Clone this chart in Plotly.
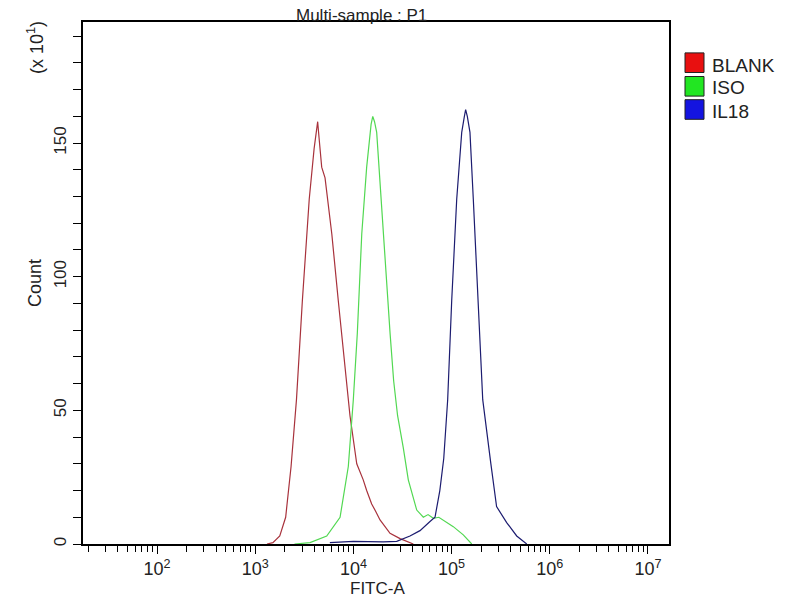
import numpy as np
import plotly.graph_objects as go

# FITC-A intensity (log10 values) and counts (x10)
blank_log = [3.12, 3.18, 3.25, 3.31, 3.365, 3.42, 3.48, 3.55, 3.60, 3.625, 3.636, 3.65, 3.677, 3.711, 3.78, 3.846,
             3.914, 3.965, 4.034, 4.10, 4.135, 4.186, 4.23, 4.271, 4.373, 4.475, 4.61]
blank_cnt = [0, 0.5, 3, 10, 29, 54, 91, 129, 148, 155, 158, 152, 141, 137, 116, 91,
             66, 48, 30, 24, 20, 15, 12, 9, 4, 2, 0]

iso_log = [3.40, 3.558, 3.728, 3.864, 3.948, 3.999, 4.04, 4.085, 4.135, 4.18, 4.197, 4.215, 4.237, 4.304, 4.373,
           4.41, 4.45, 4.508, 4.559, 4.645, 4.712, 4.76, 4.814, 4.87, 4.916, 5.017, 5.119, 5.205]
iso_cnt = [0, 0.5, 3, 10, 29, 54, 79, 116, 141, 157, 160, 158, 154, 116, 79,
           61, 48, 36, 24, 12.7, 10, 11, 9.6, 10, 9, 6.5, 3.4, 0]

il18_log = [3.76, 4.0, 4.304, 4.441, 4.576, 4.678, 4.78, 4.831, 4.88, 4.92, 4.96, 5.001, 5.052, 5.103,
            5.13, 5.143, 5.16, 5.187, 5.221, 5.272, 5.317, 5.40, 5.458, 5.561, 5.663, 5.765]
il18_cnt = [0.5, 1, 0.8, 1, 3, 5, 8.4, 10, 20, 32, 54, 91, 129, 154,
            160, 162.5, 160, 154, 129, 91, 54, 30, 14, 8, 3, 0]

names = ["BLANK", "ISO", "IL18"]
line_colors = ["#a8323c", "#52d852", "#1c1c70"]
box_colors = ["#e81010", "#22e622", "#1414e0"]

tick_vals = [10 ** k for k in range(2, 8)]
tick_text = ["10<sup>%d</sup>" % k for k in range(2, 8)]
minor_vals = [m * 10 ** k for k in range(1, 8) for m in range(2, 10)]

fig = go.Figure()
for xs, ys, c, n in [(blank_log, blank_cnt, line_colors[0], names[0]),
                     (iso_log, iso_cnt, line_colors[1], names[1]),
                     (il18_log, il18_cnt, line_colors[2], names[2])]:
    fig.add_trace(go.Scatter(x=10 ** np.array(xs), y=ys, mode="lines", name=n,
                             line=dict(color=c, width=1.2), showlegend=False))

W, H = 800, 600
L, R, T, B = 83, 669, 22, 544
OFF = 8  # page body margin


def px(x):
    return (x - L) / (R - L)


def py(y):
    return (B - y) / (B - T)


font = "Liberation Sans, Arial, sans-serif"
fig.update_layout(
    width=W, height=H,
    margin=dict(l=L - OFF, r=W - R + OFF, t=T - OFF, b=H - B + OFF),
    paper_bgcolor="white", plot_bgcolor="white",
    font=dict(family=font, color="#222", size=17),
    showlegend=False,
)
fig.update_xaxes(type="log", range=[1.246, 7.214], showgrid=False, zeroline=False,
                 showline=True, linecolor="black", linewidth=1.5, mirror=True,
                 tickvals=tick_vals, ticktext=tick_text, ticks="outside", ticklen=8,
                 tickcolor="black", tickfont=dict(size=18),
                 minor=dict(tickvals=minor_vals, ticks="outside", ticklen=6, tickcolor="black"))
fig.update_yaxes(range=[0, 195.3], showgrid=False, zeroline=False,
                 showline=True, linecolor="black", linewidth=1.5, mirror=True,
                 tickvals=list(range(0, 200, 10)),
                 ticktext=[str(v) if v % 50 == 0 else "" for v in range(0, 200, 10)],
                 ticks="outside", ticklen=8, tickcolor="black", tickangle=-90,
                 tickfont=dict(size=17))

anns = [
    dict(x=px(361), y=py(16), text="Multi-sample : P1", textangle=0, size=17),
    dict(x=px(377), y=py(588), text="FITC-A", textangle=0, size=17),
    dict(x=px(35), y=py(283), text="Count", textangle=-90, size=18),
    dict(x=px(36), y=py(48), text="(x 10<sup>1</sup>)", textangle=-90, size=18),
]
for a in anns:
    fig.add_annotation(x=a["x"], y=a["y"], xref="paper", yref="paper", text=a["text"],
                       showarrow=False, textangle=a["textangle"],
                       xanchor="center", yanchor="middle",
                       font=dict(size=a["size"], color="#222", family=font))

box_y = [62.7, 86.3, 109.5]
text_y = [65, 88, 111]
for n, c, yb, yt in zip(names, box_colors, box_y, text_y):
    fig.add_shape(type="rect", xref="paper", yref="paper",
                  x0=px(685), x1=px(704), y0=py(yb - 9.8), y1=py(yb + 9.8),
                  fillcolor=c, line=dict(color="#222", width=1))
    fig.add_annotation(x=px(710), y=py(yt), xref="paper", yref="paper", text=n,
                       showarrow=False, xanchor="left", yanchor="middle",
                       font=dict(size=19, color="#222", family=font))

fig.write_html("out.html")
